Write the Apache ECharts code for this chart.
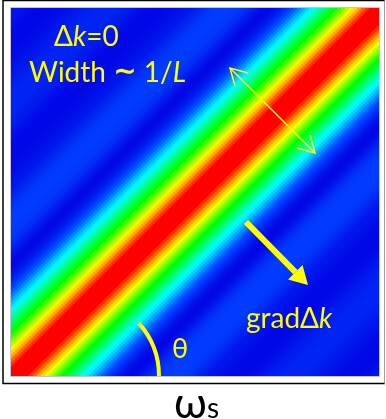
<!DOCTYPE html>
<html>
<head>
<meta charset="utf-8">
<script src="https://cdn.jsdelivr.net/npm/echarts@6/dist/echarts.min.js"></script>
<style>
  html, body { margin: 0; padding: 0; background: #ffffff; }
  #chart { width: 386px; height: 419px; }
</style>
</head>
<body>
<div id="chart"></div>
<script>
// Frequency grid: signal (horizontal) and idler (vertical) sample indices
const signalBins = Array.from({ length: 184 }, (_, i) => String(i));
const idlerBins = Array.from({ length: 184 }, (_, i) => String(i));

// Phase-matching line (Δk = 0) sits this many bins off the diagonal
const phaseMatchShift = 2;

// Relative intensity across the band, one entry per 2 bins of detuning
// from the Δk = 0 line (main lobe, then the weak side lobes)
const bandProfile = [
  1.00, 1.00, 1.00, 1.00, 0.96, 0.92, 0.87, 0.83, 0.79, 0.74,
  0.69, 0.64, 0.60, 0.57, 0.53, 0.50, 0.46, 0.42, 0.39, 0.35,
  0.31, 0.27, 0.23, 0.20, 0.15, 0.10, 0.06, 0.03, 0.01, 0.00,
  0.01, 0.03, 0.06, 0.09, 0.12, 0.14, 0.16, 0.17, 0.18, 0.18,
  0.18, 0.18, 0.17, 0.16, 0.14, 0.12, 0.10, 0.08, 0.06, 0.05,
  0.04, 0.03, 0.02, 0.01, 0.005, 0.00, 0.00, 0.00, 0.00, 0.01,
  0.02, 0.03, 0.05, 0.06, 0.07, 0.08, 0.09, 0.10, 0.10, 0.10,
  0.10, 0.10, 0.10, 0.09, 0.08, 0.07, 0.06, 0.05, 0.04, 0.03,
  0.02, 0.01, 0.01, 0.00, 0.00, 0.00, 0.00, 0.01, 0.02, 0.03,
  0.04, 0.05, 0.05, 0.06
];

// Jet-style palette from the nulls up to the band centre
const palette = ['#0008e6', '#0044ff', '#00ffff', '#00ff00', '#ffff00', '#ff0000'];

// Build heatmap cells: each cell takes the profile value for its detuning
const cells = [];
for (let xi = 0; xi < signalBins.length; xi++) {
  for (let yi = 0; yi < idlerBins.length; yi++) {
    const detune = Math.abs(xi - yi - phaseMatchShift);
    const k = Math.min(Math.round(detune / 2), bandProfile.length - 1);
    cells.push([xi, yi, bandProfile[k]]);
  }
}

const YELLOW = '#ffff00';
const FONT = 'Lato, "Open Sans", "DejaVu Sans", sans-serif';
const richLabel = (size) => ({
  n: { fontFamily: FONT, fontSize: size, fill: YELLOW },
  i: { fontFamily: FONT, fontSize: size, fontStyle: 'italic', fill: YELLOW },
  t: { fontFamily: '"DejaVu Sans", sans-serif', fontSize: size, fontWeight: 'bold', fill: YELLOW }
});

const chart = echarts.init(document.getElementById('chart'), null, { renderer: 'canvas' });
chart.setOption({
  animation: false,
  backgroundColor: '#ffffff',
  grid: { left: 11, top: 8, width: 368, height: 368, show: false },
  xAxis: { type: 'category', data: signalBins, show: false },
  yAxis: { type: 'category', data: idlerBins, show: false },
  visualMap: {
    show: false, min: 0, max: 1, calculable: false,
    inRange: { color: palette }
  },
  series: [{
    type: 'heatmap',
    data: cells,
    progressive: 0,
    itemStyle: { borderWidth: 0 },
    emphasis: { disabled: true }
  }],
  graphic: [
    // outer frame
    { type: 'polyline', z: 100, shape: { points: [[385, 0.5], [3, 0.5], [3, 383.5], [385, 383.5]] },
      style: { stroke: '#000', lineWidth: 1.5, fill: null } },
    { type: 'line', z: 100, shape: { x1: 384.5, y1: 0.5, x2: 384.5, y2: 383.5 },
      style: { stroke: '#a0a0a0', lineWidth: 1 } },
    // plot edge
    { type: 'rect', z: 100, shape: { x: 10.5, y: 7.5, width: 369, height: 369 },
      style: { stroke: '#c4c4d4', lineWidth: 1, fill: null } },

    // Δk = 0 label
    { type: 'text', z: 110, x: 54, y: 37,
      style: { text: '{n|Δ}{i|k}{n|=0}', verticalAlign: 'middle', rich: richLabel(28) } },
    { type: 'text', z: 110, x: 29, y: 73,
      style: { text: '{n|Width }{t|∼}{n| 1/}{i|L}', verticalAlign: 'middle', rich: richLabel(28) } },

    // width indicator (double-headed thin arrow)
    { type: 'line', z: 110, shape: { x1: 230, y1: 68, x2: 315, y2: 153 },
      style: { stroke: YELLOW, lineWidth: 1.5 } },
    { type: 'polyline', z: 110, shape: { points: [[248, 73], [230, 68], [235, 86]] },
      style: { stroke: YELLOW, lineWidth: 1.5, fill: null } },
    { type: 'polyline', z: 110, shape: { points: [[297, 148], [315, 153], [310, 135]] },
      style: { stroke: YELLOW, lineWidth: 1.5, fill: null } },

    // gradient arrow
    { type: 'line', z: 110, shape: { x1: 246, y1: 222, x2: 295.4, y2: 272.2 },
      style: { stroke: YELLOW, lineWidth: 6 } },
    { type: 'polygon', z: 110, shape: { points: [[308, 285], [288, 279.5], [302.5, 265]] },
      style: { fill: YELLOW } },
    { type: 'text', z: 110, x: 246, y: 319,
      style: { text: '{n|gradΔ}{i|k}', verticalAlign: 'middle', rich: richLabel(28) } },

    // angle θ
    { type: 'arc', z: 110,
      shape: { cx: 80, cy: 376, r: 79, startAngle: -42 * Math.PI / 180, endAngle: 0, clockwise: true },
      style: { stroke: YELLOW, lineWidth: 4, fill: null } },
    { type: 'text', z: 110, x: 172, y: 349,
      style: { text: 'θ', verticalAlign: 'middle', fontFamily: FONT, fontSize: 27, fill: YELLOW } },

    // axis label ω_s
    { type: 'text', z: 110, x: 174, y: 404,
      style: { text: 'ω', verticalAlign: 'middle', fontFamily: FONT, fontSize: 43, fill: '#000' } },
    { type: 'text', z: 110, x: 207, y: 409,
      style: { text: 's', verticalAlign: 'middle', fontFamily: FONT, fontSize: 28, fill: '#000' } }
  ]
});
</script>
</body>
</html>
